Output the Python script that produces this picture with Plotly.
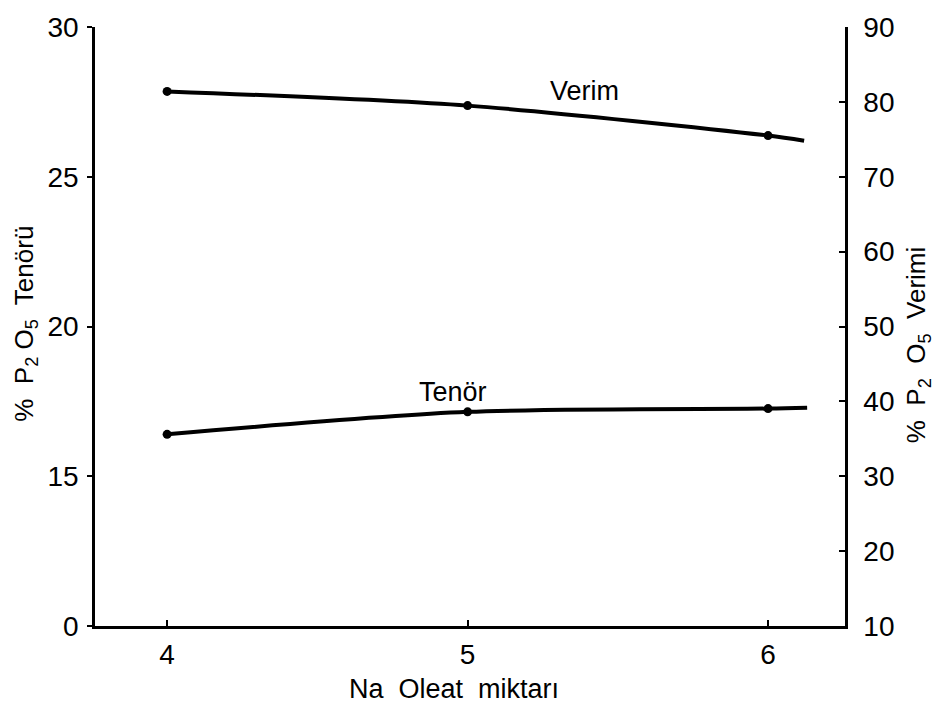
import plotly.graph_objects as go

# Na oleate amount (x) and measured series
na_oleat = [4, 5, 6]
verim = [81.4, 79.5, 75.5]          # % P2O5 recovery (right axis)
tenor = [16.4, 17.15, 17.26]        # % P2O5 grade (left axis)

# where the drawn curves end past the last measurement
curve_end_x = [6.12, 6.13]
verim_end = 74.8
tenor_end = 17.29

left_ticks = [10, 15, 20, 25, 30]
left_ticktext = ["0", "15", "20", "25", "30"]
right_ticks = [10, 20, 30, 40, 50, 60, 70, 80, 90]
x_ticks = [4, 5, 6]
x_ticktext = ["4", "5", "6"]

FONT = "Liberation Sans"
INK = "black"

fig = go.Figure()

# smooth hand-drawn style curves
fig.add_trace(go.Scatter(
    x=na_oleat + [curve_end_x[0]], y=verim + [verim_end],
    mode="lines", line=dict(color=INK, width=4, shape="spline", smoothing=0.8),
    yaxis="y2", hoverinfo="skip", showlegend=False))
fig.add_trace(go.Scatter(
    x=na_oleat, y=verim, mode="markers",
    marker=dict(color=INK, size=9), yaxis="y2", showlegend=False))

fig.add_trace(go.Scatter(
    x=na_oleat + [curve_end_x[1]], y=tenor + [tenor_end],
    mode="lines", line=dict(color=INK, width=4, shape="spline", smoothing=0.8),
    yaxis="y", hoverinfo="skip", showlegend=False))
fig.add_trace(go.Scatter(
    x=na_oleat, y=tenor, mode="markers",
    marker=dict(color=INK, size=9), yaxis="y", showlegend=False))

fig.update_layout(
    width=937, height=711,
    margin=dict(l=95, r=92, t=20, b=85),
    paper_bgcolor="white", plot_bgcolor="white",
    font=dict(family=FONT, color=INK, size=28),
    xaxis=dict(
        range=[3.76, 6.256], tickvals=x_ticks, ticktext=x_ticktext,
        showline=True, linecolor=INK, linewidth=2.5, showgrid=False, zeroline=False,
        ticks="inside", ticklen=6, tickwidth=2, tickcolor=INK,
        tickfont=dict(size=28), ticklabelstandoff=2, mirror=False),
    yaxis=dict(
        range=[10, 30], tickvals=left_ticks, ticktext=left_ticktext,
        showline=True, linecolor=INK, linewidth=2.5, showgrid=False, zeroline=False,
        ticks="outside", ticklen=5, tickwidth=2, tickcolor=INK,
        tickfont=dict(size=28), ticklabelstandoff=3),
    yaxis2=dict(
        range=[10, 90], tickvals=right_ticks, overlaying="y", side="right",
        showline=True, linecolor=INK, linewidth=2.5, showgrid=False, zeroline=False,
        ticks="inside", ticklen=6, tickwidth=2, tickcolor=INK,
        tickfont=dict(size=28), ticklabelstandoff=10),
    annotations=[
        dict(text="Verim", x=5.39, y=81.4, xref="x", yref="y2",
             xanchor="center", yanchor="middle", showarrow=False, font=dict(size=27)),
        dict(text="Tenör", x=4.95, y=17.8, xref="x", yref="y",
             xanchor="center", yanchor="middle", showarrow=False, font=dict(size=27)),
        dict(text="Na  Oleat  miktarı", x=0.479, y=-0.106, xref="paper", yref="paper",
             xanchor="center", yanchor="middle", showarrow=False, font=dict(size=27)),
        dict(text="%  P<sub>2</sub> O<sub>5</sub>  Tenörü", x=-0.093, y=0.505,
             xref="paper", yref="paper", textangle=-90, showarrow=False,
             xanchor="center", yanchor="middle", font=dict(size=26)),
        dict(text="%  P<sub>2</sub>  O<sub>5</sub>  Verimi", x=1.097, y=0.47,
             xref="paper", yref="paper", textangle=-90, showarrow=False,
             xanchor="center", yanchor="middle", font=dict(size=26)),
    ],
)

fig.write_html("out.html")
